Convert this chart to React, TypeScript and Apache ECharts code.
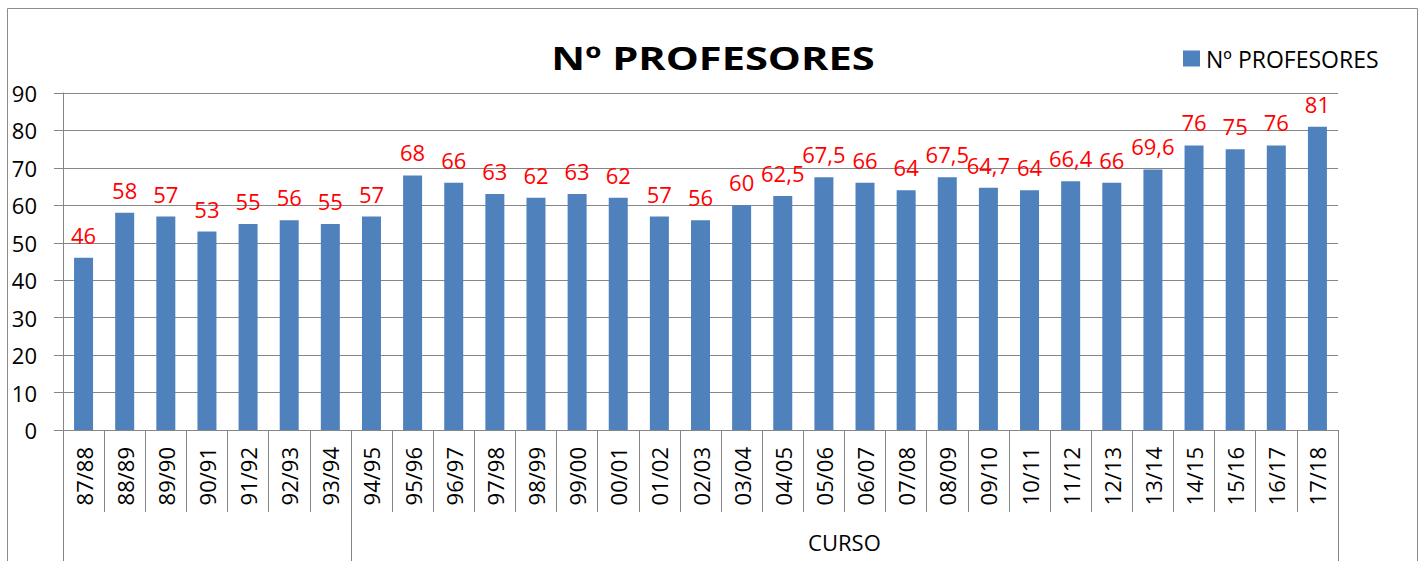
import React, { useEffect, useRef } from "react";
import * as echarts from "echarts";

const categories = [
  "87/88", "88/89", "89/90", "90/91", "91/92", "92/93", "93/94", "94/95",
  "95/96", "96/97", "97/98", "98/99", "99/00", "00/01", "01/02", "02/03",
  "03/04", "04/05", "05/06", "06/07", "07/08", "08/09", "09/10", "10/11",
  "11/12", "12/13", "13/14", "14/15", "15/16", "16/17", "17/18",
];
const values = [
  46, 58, 57, 53, 55, 56, 55, 57, 68, 66, 63, 62, 63, 62, 57, 56, 60, 62.5,
  67.5, 66, 64, 67.5, 64.7, 64, 66.4, 66, 69.6, 76, 75, 76, 81,
];
const groupBounds = [0, 7, 31];
const groupLabelPos = [19];
const groupLabels = ["CURSO"];
const yTicks = [0, 90, 10];
const titleText = "Nº PROFESORES";
const seriesName = "Nº PROFESORES";

const FONT = "'Open Sans', 'Noto Sans', sans-serif";

export default function App() {
  const ref = useRef<HTMLDivElement>(null);
  useEffect(() => {
    document.body.style.margin = "0";
    const chart = echarts.init(ref.current!, null, { renderer: "svg" });
    chart.setOption({
      animation: false,
      backgroundColor: "#fff",
      textStyle: { fontFamily: FONT },
      legend: {
        show: true,
        left: 1183,
        top: 47,
        padding: 0,
        itemWidth: 17,
        itemHeight: 16,
        itemGap: 6,
        icon: "rect",
        textStyle: { fontSize: 23, color: "#000", fontFamily: FONT, padding: [0, 0, 0, 1] },
        data: [seriesName],
      },
      graphic: [
        {
          type: "rect",
          shape: { x: 7.5, y: 8.5, width: 1410, height: 700 },
          style: { fill: "none", stroke: "#8c8c8c", lineWidth: 1 },
          silent: true,
        },
        {
          type: "text",
          x: 713,
          y: 57,
          scaleX: 1.3,
          silent: true,
          style: {
            text: titleText,
            fontSize: 32,
            fontWeight: "bold",
            fontFamily: FONT,
            fill: "#000",
            align: "center",
            verticalAlign: "middle",
          },
        },
      ],
      grid: { left: 63, right: 86, top: 93, bottom: 131, containLabel: false },
      xAxis: [
        {
          type: "category",
          data: categories,
          position: "bottom",
          axisLine: { show: true, lineStyle: { color: "#868686", width: 1 } },
          axisTick: { show: true, interval: 0, length: 82, lineStyle: { color: "#868686" } },
          axisLabel: {
            interval: 0,
            rotate: 90,
            margin: 17,
            fontSize: 22,
            color: "#000",
            fontFamily: FONT,
          },
          splitLine: { show: false },
        },
        {
          type: "value",
          min: groupBounds[0],
          max: groupBounds[groupBounds.length - 1],
          position: "bottom",
          axisLine: { show: false },
          axisTick: {
            show: true,
            customValues: groupBounds,
            length: 200,
            lineStyle: { color: "#868686" },
          },
          axisLabel: {
            show: true,
            customValues: groupLabelPos,
            formatter: (v: number) => groupLabels[groupLabelPos.indexOf(v)] ?? "",
            margin: 101,
            fontSize: 22,
            color: "#000",
            fontFamily: FONT,
          },
          splitLine: { show: false },
        },
      ],
      yAxis: {
        type: "value",
        min: yTicks[0],
        max: yTicks[1],
        interval: yTicks[2],
        axisLine: { show: true, lineStyle: { color: "#868686" } },
        axisTick: { show: true, length: 9, lineStyle: { color: "#868686" } },
        axisLabel: { margin: 26, fontSize: 22, color: "#000", fontFamily: FONT },
        splitLine: { show: true, lineStyle: { color: "#868686", width: 1 } },
      },
      series: [
        {
          name: seriesName,
          type: "bar",
          xAxisIndex: 0,
          data: values,
          barWidth: 19,
          itemStyle: { color: "#4F81BD" },
          label: {
            show: true,
            position: "top",
            distance: 12,
            color: "#FF0000",
            fontSize: 22,
            fontFamily: FONT,
            formatter: (p: any) => String(p.value).replace(".", ","),
          },
        },
      ],
    });
    return () => chart.dispose();
  }, []);
  return <div ref={ref} style={{ width: 1424, height: 561 }} />;
}
